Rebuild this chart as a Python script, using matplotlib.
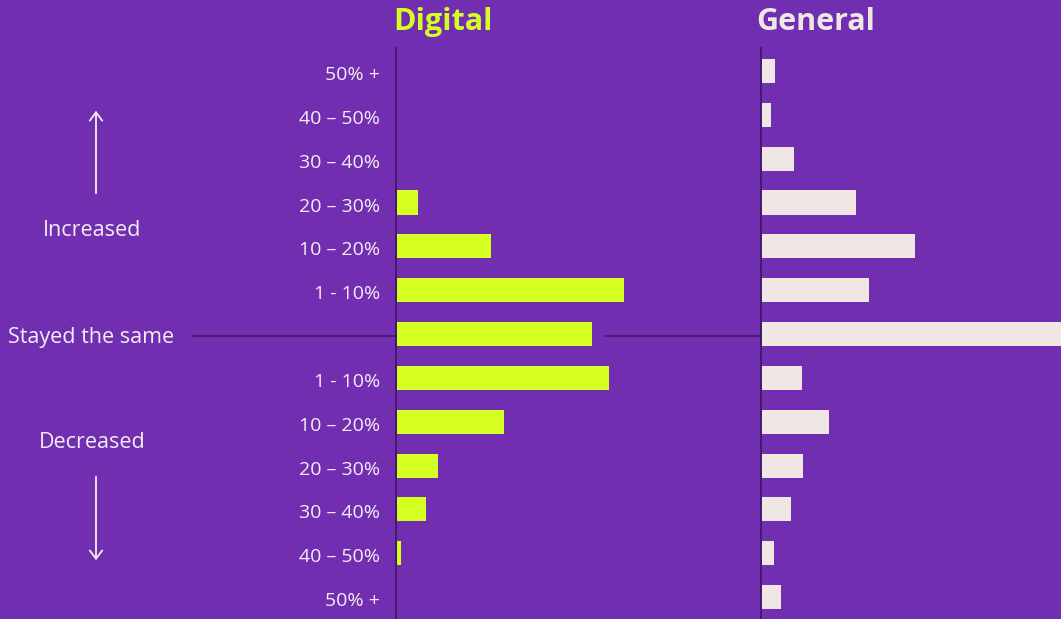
import matplotlib
matplotlib.use("Agg")
import matplotlib.pyplot as plt
from matplotlib.lines import Line2D
from matplotlib.patches import FancyArrowPatch
from matplotlib.transforms import ScaledTranslation

# ---- data ----
row_labels = ["50% +", "40 – 50%", "30 – 40%", "20 – 30%", "10 – 20%", "1 - 10%", "",
              "1 - 10%", "10 – 20%", "20 – 30%", "30 – 40%", "40 – 50%", "50% +"]
digital = [0.0, 0.0, 0.0, 2.3, 10.1, 24.4, 21.0, 22.8, 11.5, 4.4, 3.1, 0.4, 0.0]
general = [1.4, 1.0, 3.5, 10.1, 16.5, 11.5, 33.5, 4.3, 7.2, 4.4, 3.1, 1.3, 2.0]
panel_titles = ["Digital", "General"]
group_labels = ["Increased", "Stayed the same", "Decreased"]

BG = "#722EB1"
LIME = "#D4FF21"
LIGHT = "#F0E6E4"
TEXT = "#F4EEF4"
DARK = "#3A1660"
W, H = 1061, 619

plt.rcParams['font.family'] = ['Open Sans', 'DejaVu Sans']
fig = plt.figure(figsize=(W / 100, H / 100), dpi=100, facecolor=BG)

n = len(row_labels)
ypos = [n - 1 - i for i in range(n)]
ylim = (-0.5, 12.525)
px_per_unit = 9.3

def fx(px):
    return px / W

def fy(py):
    return 1 - py / H

ax1 = fig.add_axes([fx(396), 0, fx(740) - fx(396), fy(48)])
ax2 = fig.add_axes([fx(761), 0, fx(1061) - fx(761), fy(48)])

for ax, vals, col, left, right in [(ax1, digital, LIME, 396, 740), (ax2, general, LIGHT, 761, 1061)]:
    ax.set_facecolor("none")
    ax.barh(ypos, vals, height=0.55, color=col, left=0.1)
    ax.set_xlim(0, (right - left) / px_per_unit)
    ax.set_ylim(*ylim)
    for s in ["top", "right", "bottom"]:
        ax.spines[s].set_visible(False)
    ax.spines["left"].set_color(DARK)
    ax.spines["left"].set_linewidth(1.2)
    ax.set_xticks([])
    ax.tick_params(axis="y", length=0, pad=11.5, labelsize=14, labelcolor=TEXT)
    ax.set_yticks([])

ax1.set_yticks(ypos)
ax1.set_yticklabels(row_labels)
shift = ScaledTranslation(0, -2 / 100, fig.dpi_scale_trans)
for lbl in ax1.get_yticklabels():
    lbl.set_transform(lbl.get_transform() + shift)

# titles
fig.text(fx(443), fy(22), panel_titles[0], color=LIME, fontsize=22, fontweight="bold",
         ha="center", va="center")
fig.text(fx(816), fy(22), panel_titles[1], color=LIGHT, fontsize=22, fontweight="bold",
         ha="center", va="center")

# group labels
fig.text(fx(92), fy(230), group_labels[0], color=TEXT, fontsize=15.5, ha="center", va="center")
fig.text(fx(8), fy(338), group_labels[1], color=TEXT, fontsize=15.5, ha="left", va="center")
fig.text(fx(92), fy(443), group_labels[2], color=TEXT, fontsize=15.5, ha="center", va="center")

# horizontal reference lines for "Stayed the same"
fig.add_artist(Line2D([fx(192), fx(396)], [fy(336), fy(336)], color=DARK, lw=1.1))
fig.add_artist(Line2D([fx(606), fx(761)], [fy(336), fy(336)], color=DARK, lw=1.1))

# arrows
fig.add_artist(FancyArrowPatch((fx(96), fy(196)), (fx(96), fy(108)),
               transform=fig.transFigure, arrowstyle="->,head_length=4,head_width=3",
               color=TEXT, lw=1.3, mutation_scale=1.5))
fig.add_artist(FancyArrowPatch((fx(96), fy(474)), (fx(96), fy(563)),
               transform=fig.transFigure, arrowstyle="->,head_length=4,head_width=3",
               color=TEXT, lw=1.3, mutation_scale=1.5))

fig.savefig("out.png", dpi=100, facecolor=BG)
